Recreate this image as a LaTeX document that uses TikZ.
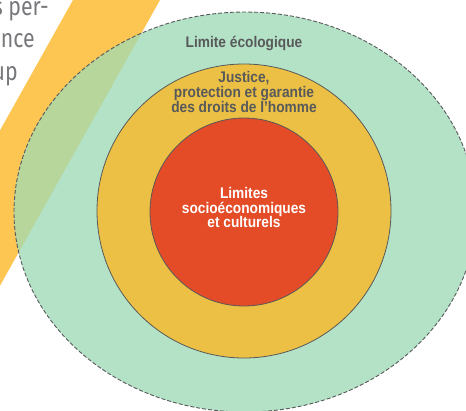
\documentclass[tikz,border=0pt]{standalone}
\usepackage{fontspec}
\usepackage{tikz}
\usetikzlibrary{positioning}
\newfontfamily\ringfont[FakeStretch=0.89]{Liberation Sans}
\newfontfamily\bodyfont[FakeStretch=0.82]{Fira Sans}
\definecolor{bandyellow}{HTML}{FDC652}
\definecolor{ecogreen}{HTML}{B4E2C6}
\definecolor{overlapgreen}{HTML}{B6D69C}
\definecolor{justiceorange}{HTML}{EBC044}
\definecolor{limitred}{HTML}{E44C28}
\definecolor{textgray}{HTML}{58595B}
\definecolor{bodygray}{HTML}{77787B}

\tikzset{
  ring/.style={draw=textgray, line width=0.8pt},
  ringtext/.style={font=\ringfont\bfseries\fontsize{15.4}{14.8}\selectfont, align=center, inner sep=0pt, text=textgray},
  bodytext/.style={font=\bodyfont\fontsize{26}{33}\selectfont, text=bodygray, inner sep=0pt, anchor=base east}
}

\begin{document}
\begin{tikzpicture}[x=1pt, y=-1pt]

\useasboundingbox (0,0) rectangle (466,410);
\clip (0,0) rectangle (466,410);

\foreach \n/\x/\y/\t in {l1/49/15/s per-, l2/35/47/nce, l3/18/80/up} {
    \node[bodytext] (\n) at (\x,\y) {\t};
}

\fill[bandyellow] (84.2,-20) -- (171.2,-20) -- (-19.2,320) -- (-106.2,320) -- cycle;
\fill[ecogreen] (245,212) ellipse [x radius=231, y radius=200];
\begin{scope}
  \clip (245,212) ellipse [x radius=231, y radius=200];
  \fill[overlapgreen] (84.2,-20) -- (171.2,-20) -- (-19.2,320) -- (-106.2,320) -- cycle;
\end{scope}
\draw[textgray, line width=0.9pt, dash pattern=on 4pt off 2pt] (245,212) ellipse [x radius=231, y radius=200];

\filldraw[ring, fill=justiceorange] (244,211) circle [radius=147];
\filldraw[ring, fill=limitred] (244,212) circle [radius=94];

\node[ringtext, anchor=base] (eco) at (244,47) {Limite écologique};
\node[ringtext] (justice) at (244,92) {Justice,\\protection et garantie\\des droits de l’homme};
\node[ringtext, text=white] (limites) at (244,207.5) {Limites\\socioéconomiques\\et culturels};

\end{tikzpicture}
\end{document}
